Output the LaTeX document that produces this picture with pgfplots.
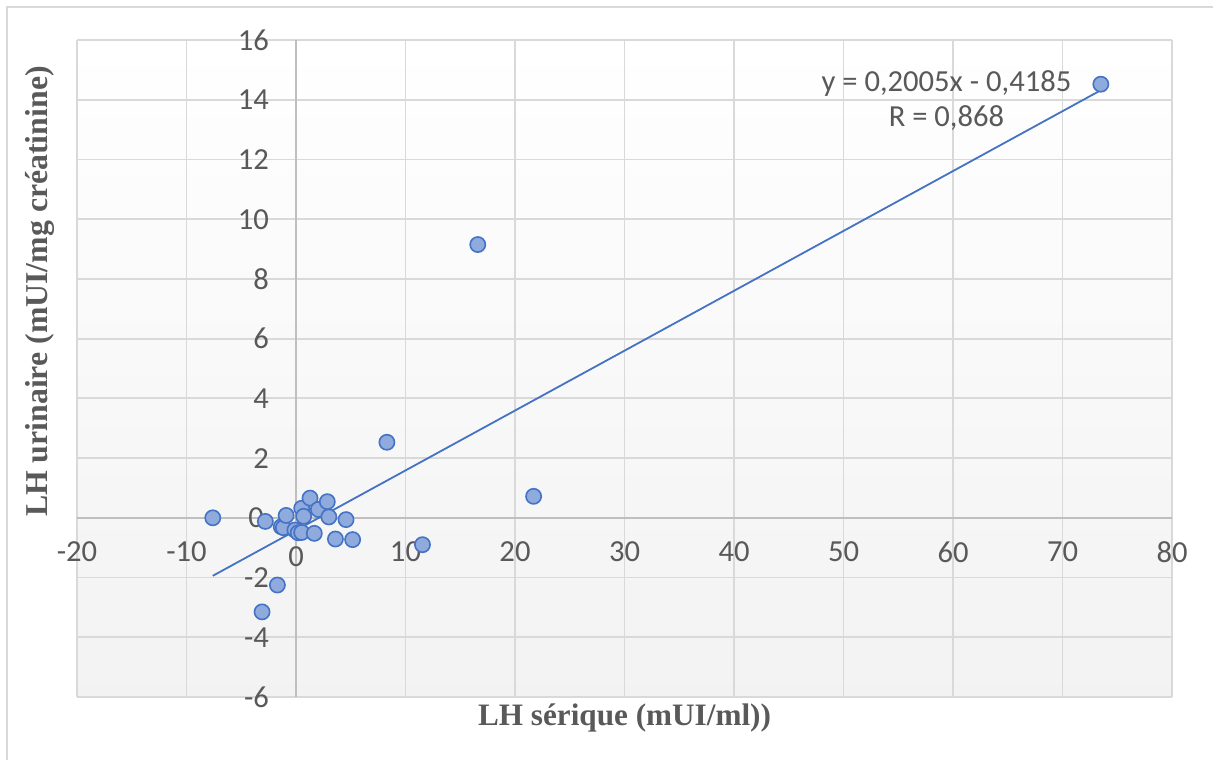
\documentclass[border=0pt]{standalone}
\usepackage{fontspec}
\setmainfont{Carlito}
\newfontfamily\titlefont{Liberation Serif}
\usepackage{pgfplots}
\usepackage{pgfplotstable}
\pgfplotsset{compat=1.18}

\definecolor{mkfill}{RGB}{143,170,220}
\definecolor{mkdraw}{RGB}{68,114,196}
\definecolor{txt}{RGB}{89,89,89}
\definecolor{gridc}{RGB}{217,217,217}
\definecolor{axc}{RGB}{191,191,191}

% LH serique vs LH urinaire
\pgfplotstableread{
x y
-7.6 0.00
-3.1 -3.15
-2.8 -0.12
-1.7 -2.25
-1.35 -0.30
-1.15 -0.33
-0.9 0.08
-0.1 -0.41
0.2 -0.50
0.52 -0.49
0.52 0.32
0.7 0.05
1.28 0.66
1.67 -0.52
2.04 0.28
2.86 0.54
3.0 0.03
3.6 -0.71
4.57 -0.06
5.17 -0.73
8.3 2.53
11.55 -0.90
16.6 9.15
21.7 0.72
73.5 14.52
}\lhdata

\begin{document}
\begin{tikzpicture}
\useasboundingbox (0,0) rectangle (606.5pt,380pt);
\draw[gridc, line width=1pt] (3.5pt,0pt) -- (3.5pt,376.5pt) -- (606.5pt,376.5pt);
\begin{axis}[
    at={(38.5pt,31.5pt)}, anchor=south west,
    width=547.5pt, height=328.5pt, scale only axis,
    xmin=-20, xmax=80, ymin=-6, ymax=16,
    xtick={-20,-10,...,80}, ytick={-6,-4,...,16},
    axis lines=middle,
    axis line style={-, draw=axc, line width=0.9pt},
    grid=major,
    grid style={gridc, line width=0.9pt},
    major tick length=0pt,
    axis background/.style={shade, top color=white, bottom color=black!5},
    /pgf/number format/assume math mode=true,
    tick label style={font=\fontsize{15.3}{18}\selectfont, text=txt},
    xticklabel style={anchor=north, yshift=-8.5pt},
    yticklabel style={anchor=east, xshift=-10pt},
    xlabel={LH sérique (mUI/ml))},
    ylabel={LH urinaire (mUI/mg créatinine)},
    every axis x label/.style={at={(axis description cs:0.5,-0.032)}, anchor=center,
        font=\titlefont\bfseries\fontsize{15.6}{18}\selectfont, text=txt},
    every axis y label/.style={at={(axis description cs:-0.0338,0.617)}, anchor=center, rotate=90,
        font=\titlefont\bfseries\fontsize{15.9}{18}\selectfont, text=txt},
    clip=false,
]
% zero labels at the crossing of the axes (under the marks)
\node[anchor=north, yshift=-11pt, text=txt, font=\fontsize{15.3}{18}\selectfont] at (axis cs:0,0) {0};
\node[anchor=east, xshift=-12.5pt, text=txt, font=\fontsize{15.3}{18}\selectfont] at (axis cs:0,0) {0};
\addplot[only marks, mark=*, mark size=3.8pt,
    mark options={fill=mkfill, draw=mkdraw, line width=0.8pt}] table {\lhdata};
\addplot[mkdraw, line width=0.9pt, no marks] coordinates {(-7.6,-1.9423) (73.5,14.318)};
\node[align=center, text=txt, font=\fontsize{15.3}{17.5}\selectfont]
    at (axis cs:59.4,13.97) {y = 0,2005x - 0,4185\\R = 0,868};
\end{axis}
\end{tikzpicture}
\end{document}
